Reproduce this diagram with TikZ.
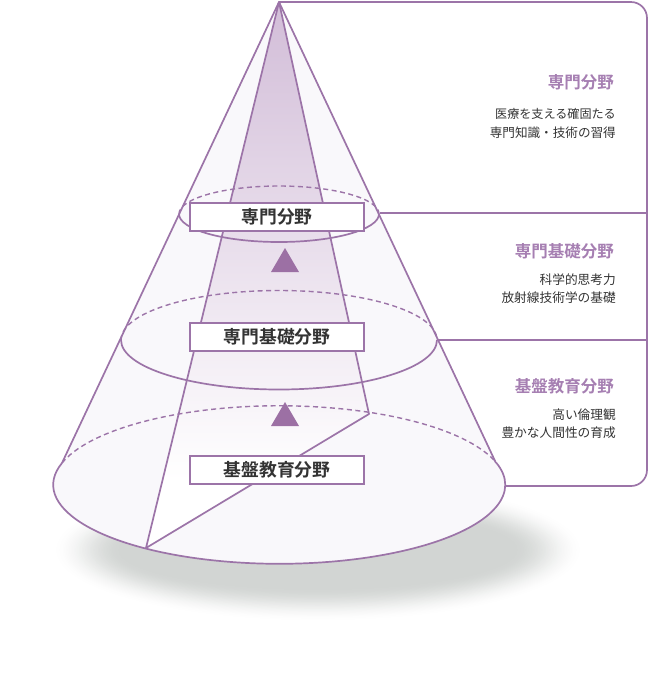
\documentclass[tikz,border=0pt]{standalone}
\usepackage{fontspec}
\setmainfont[BoldFont={Noto Sans CJK JP Bold}]{Noto Sans CJK JP}
\definecolor{pline}{HTML}{9C74A8}
\definecolor{ptitle}{HTML}{A67FB2}
\definecolor{ptri}{HTML}{9C70A4}
\definecolor{conefill}{HTML}{F9F8FB}
\definecolor{wedgetop}{HTML}{D2BDD8}
\definecolor{txt}{HTML}{333333}
\definecolor{shadowc}{HTML}{D2D5D3}
\newcommand{\bodysize}[1]{\fontsize{#1}{18.5}\selectfont}
\tikzset{
  outline/.style={draw=pline,line width=1.7pt},
  dashline/.style={draw=pline,line width=1.4pt,dash pattern=on 5pt off 3.5pt},
  labelbox/.style={draw=pline,line width=1.4pt,fill=white,minimum width=174pt,minimum height=28pt,inner sep=0pt,font=\fontsize{17.8}{20}\selectfont\bfseries,text=txt},
  sidetitle/.style={anchor=east,font=\fontsize{16.5}{18}\selectfont\bfseries,text=ptitle,inner sep=0pt},
  sidebody/.style={anchor=east,font=\bodysize{12.7},text=txt,align=right,inner sep=0pt},
  uptri/.style={fill=ptri,draw=none},
}
\begin{document}
\begin{tikzpicture}[x=1pt,y=-1pt]
\useasboundingbox (0,0) rectangle (650,681);
\coordinate (apex) at (279,2);
\coordinate (bl) at (62,463);
\coordinate (br) at (496,463);
\coordinate (wl) at (146,548);
\coordinate (wr) at (369,414);
% soft shadow: stacked ellipses, outer to inner
\foreach \i in {0,1,...,44}{
  \pgfmathsetmacro{\t}{\i/44}
  \pgfmathsetmacro{\mixv}{100*\t*\t*(3-2*\t)}
  \fill[shadowc!\mixv!white] (318,550) ellipse [x radius={266-70*\t},y radius={72-34*\t}];
}
% cone body
\fill[conefill] (apex) -- (bl) arc[start angle=196,end angle=-16,x radius=226,y radius=79] -- cycle;
% wedge
\begin{scope}
  \clip (apex) -- (wl) -- (wr) -- cycle;
  \fill[white] (100,0) rectangle (400,560);
  \shade[top color=wedgetop,bottom color=white] (100,2) rectangle (400,480);
\end{scope}
\draw[outline,line join=round] (wr) -- (apex) -- (wl) -- cycle;
% dashed rear rims
\draw[dashline] (bl) arc[start angle=196,end angle=344,x radius=226,y radius=79];
\draw[dashline] (121,340) arc[start angle=180,end angle=360,x radius=158,y radius=49.5];
\draw[dashline] (179,214) arc[start angle=180,end angle=360,x radius=100,y radius=28];
% front rims
\draw[outline] (bl) arc[start angle=196,end angle=-16,x radius=226,y radius=79];
\draw[outline] (121,340) arc[start angle=180,end angle=0,x radius=158,y radius=49.5];
\draw[outline] (179,214) arc[start angle=180,end angle=0,x radius=100,y radius=28];
% sides
\draw[outline,line join=round] (bl) -- (apex) -- (br);
% panel
\coordinate (ptop) at (647,2);
\coordinate (pbot) at (647,486);
\coordinate (pend) at (505,486);
\draw[outline,rounded corners=16pt] (apex) -- (ptop) -- (pbot) -- (pend);
\draw[outline] (380,213) -- (647,213);
\draw[outline] (438,340) -- (647,340);
% triangles
\fill[uptri] (285,248) -- (299,272) -- (271,272) -- cycle;
\fill[uptri] (285,402) -- (299,426) -- (271,426) -- cycle;
% boxes
\node[labelbox] (b1) at (277,217) {専門分野};
\node[labelbox] (b2) at (277,337) {専門基礎分野};
\node[labelbox] (b3) at (277,470) {基盤教育分野};
% right text
\node[sidetitle] (t1) at (614,82) {専門分野};
\node[sidebody] (d1) at (616,123.5) {{\bodysize{12.1}医療を支える確固たる}\\{\bodysize{12.6}専門知識・技術の習得}};
\node[sidetitle] (t2) at (614,251) {専門基礎分野};
\node[sidebody] (d2) at (616,288.5) {科学的思考力\\放射線技術学の基礎};
\node[sidetitle] (t3) at (614,386) {基盤教育分野};
\node[sidebody] (d3) at (616,423.5) {高い倫理観\\豊かな人間性の育成};
\end{tikzpicture}
\end{document}
